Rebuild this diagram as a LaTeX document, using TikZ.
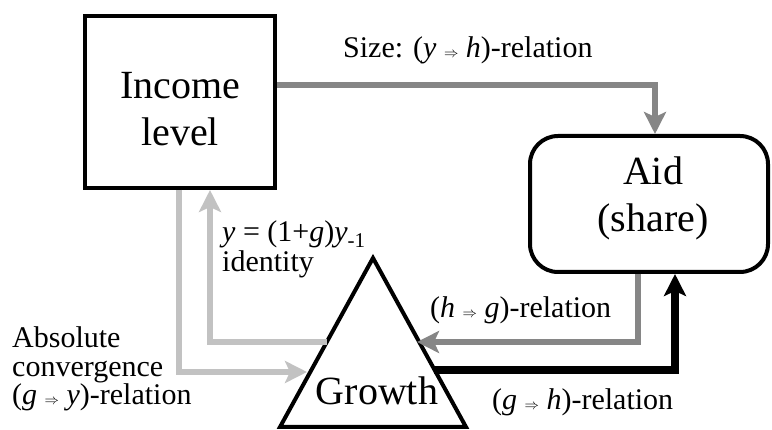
\documentclass[tikz,border=0pt]{standalone}
\usepackage{fontspec}
\setmainfont{LiberationSerif}[Extension=.ttf, UprightFont=*-Regular, ItalicFont=*-Italic, BoldFont=*-Bold]
\usetikzlibrary{arrows.meta,calc}
\newcommand{\imp}{{\fontsize{14}{14}\selectfont$\Rightarrow$}}
\begin{document}
\begin{tikzpicture}[x=1pt,y=-1pt,
  bigtxt/.style={font=\fontsize{40}{47}\selectfont, align=center, inner sep=0pt},
  lbl/.style={font=\fontsize{30}{29}\selectfont, align=left, inner sep=0pt},
  boxnode/.style={draw, line width=4pt, inner sep=0pt},
  grayarr/.style={draw=gray!95, line width=6pt, -{Stealth[length=22pt,width=22pt,inset=5pt]}},
  lightarr/.style={draw=black!24, line width=6pt, -{Stealth[length=22pt,width=22pt,inset=5pt]}},
  blackarr/.style={draw=black, line width=7.5pt, -{Stealth[length=22pt,width=22pt,inset=5pt]}},
]
\useasboundingbox (0,0) rectangle (772,430);
% nodes
\node[boxnode, minimum width=190pt, minimum height=172pt] (inc) at (180,102) {};
\node[bigtxt, anchor=base] (inctxt) at (180,99) {Income};
\node[bigtxt, anchor=base] (levtxt) at (180,146) {level};
\node[boxnode, rounded corners=28pt, minimum width=238pt, minimum height=136pt] (aid) at (649,204) {};
\node[bigtxt, anchor=base] (aidtxt) at (653,185) {Aid};
\node[bigtxt, anchor=base] (sharetxt) at (653,232) {(share)};
% triangle
\coordinate (ta) at (373,258);
\coordinate (tl) at (280,427);
\coordinate (tr) at (466,427);
\draw[line width=4pt, line join=miter] (ta) -- (tl) -- (tr) -- cycle;
\node[bigtxt, anchor=base] (grtxt) at (377,405) {Growth};
% points on the triangle edges
\coordinate (tlA) at (327,342);
\coordinate (tlB) at (307,372);
\coordinate (trA) at (417,342);
\coordinate (trB) at (434,370);
% guide coordinates
\coordinate (sz) at (655,85);
\coordinate (hg) at (638,342);
\coordinate (gh) at (675,370);
\coordinate (idn) at (210,342);
\coordinate (cv) at (179,372);
% connectors
\draw[grayarr] (inc.east |- sz) -| (aid.north -| sz);
\draw[lightarr] (inc.south -| cv) |- (tlB);
\draw[lightarr] (tlA) -| (inc.south -| idn);
\draw[grayarr] (aid.south -| hg) |- (trA);
\draw[blackarr] (trB) -| (aid.south -| gh);
% labels
\node[lbl, anchor=base west] (lsz) at (343,58) {Size: (\textit{y} \imp{} \textit{h})-relation};
\node[lbl, anchor=base west] (lid1) at (222,242) {\textit{y} = (1+\textit{g})\textit{y}\textsubscript{-1}};
\node[lbl, anchor=base west] (lid2) at (222,272) {identity};
\node[lbl, anchor=base west] (lcv1) at (12,348) {Absolute};
\node[lbl, anchor=base west] (lcv2) at (12,377) {convergence};
\node[lbl, anchor=base west] (lcv3) at (12,405) {(\textit{g} \imp{} \textit{y})-relation};
\node[lbl, anchor=base west] (lhg) at (430,318) {(\textit{h} \imp{} \textit{g})-relation};
\node[lbl, anchor=base west] (lgh) at (492,410) {(\textit{g} \imp{} \textit{h})-relation};
\end{tikzpicture}
\end{document}
